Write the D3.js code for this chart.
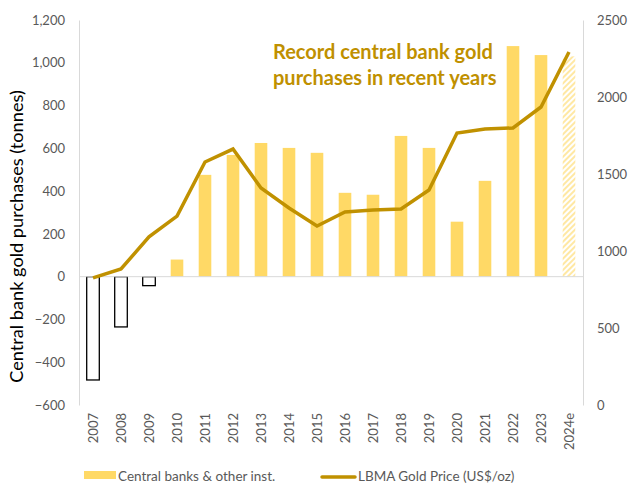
<!DOCTYPE html>
<html>
<head>
<meta charset="utf-8">
<script src="https://cdn.jsdelivr.net/npm/d3@7"></script>
<style>
  body{margin:0;background:#fff;}
  text{font-family:Lato,"Open Sans",sans-serif;}
</style>
</head>
<body>
<svg></svg>
<script>
var years=["2007","2008","2009","2010","2011","2012","2013","2014","2015","2016","2017","2018","2019","2020","2021","2022","2023","2024e"];
var purchases=[-483,-235,-42,80,476,569,625,602,579,392,383,658,602,257,448,1078,1036,1030];
var goldPrice=[826,883,1092,1227,1578,1662,1409,1279,1162,1253,1266,1273,1396,1766,1792,1799,1935,2292];
var leftTicks=[-600,-400,-200,0,200,400,600,800,1000,1200];
var rightTicks=[0,500,1000,1500,2000,2500];

function makeChart(){
  var width=633, height=483;
  var margin={top:20,bot:78,left:79,right:50};
  var svg=d3.select("svg").attr("width",width).attr("height",height);

  var defs=svg.append("defs");
  var pat=defs.append("pattern")
              .attr("id","hatch")
              .attr("patternUnits","userSpaceOnUse")
              .attr("width",4).attr("height",4)
              .attr("patternTransform","rotate(45)");
  pat.append("rect").attr("width",4).attr("height",4).attr("fill","#fff");
  pat.append("rect").attr("width",2).attr("height",4).attr("fill","#ffe8a3");

  var xScale=d3.scaleBand()
               .domain(years)
               .range([margin.left,width-margin.right])
               .paddingInner(0.55).paddingOuter(0.275);
  var yScale=d3.scaleLinear()
               .domain([-600,1200])
               .range([height-margin.bot,margin.top]);
  var y2Scale=d3.scaleLinear()
                .domain([0,2500])
                .range([height-margin.bot,margin.top]);

  // axes
  var yAxis=d3.axisLeft(yScale).tickValues(leftTicks).tickSize(0).tickPadding(14)
              .tickFormat(d3.format(","));
  var gy=svg.append("g").attr("transform","translate("+margin.left+",0)").call(yAxis);
  var y2Axis=d3.axisRight(y2Scale).tickValues(rightTicks).tickSize(0).tickPadding(14)
               .tickFormat(d3.format("d"));
  var gy2=svg.append("g").attr("transform","translate("+(width-margin.right)+",0)").call(y2Axis);
  [gy,gy2].forEach(function(g){
    g.select(".domain").attr("stroke","#d9d9d9");
    g.selectAll("text").attr("fill","#595959").style("font-size","13px")
     .style("font-family","Lato,'Open Sans',sans-serif");
  });

  // bars
  svg.selectAll("rect.bar")
     .data(years)
     .enter().append("rect")
     .attr("class","bar")
     .attr("x",function(d){return xScale(d);})
     .attr("width",xScale.bandwidth())
     .attr("y",function(d,i){return yScale(Math.max(0,purchases[i]));})
     .attr("height",function(d,i){return Math.abs(yScale(purchases[i])-yScale(0));})
     .attr("fill",function(d,i){
        if(d==="2024e"){return "url(#hatch)";}
        return purchases[i]<0?"#fff":"#ffd966";
     })
     .attr("stroke",function(d,i){return purchases[i]<0?"#000":"none";})
     .attr("stroke-width",1.3);

  // zero line
  svg.append("line")
     .attr("x1",margin.left).attr("x2",width-margin.right)
     .attr("y1",yScale(0)).attr("y2",yScale(0))
     .attr("stroke","#d9d9d9").attr("stroke-width",1);

  // x labels
  var xAxis=d3.axisBottom(xScale).tickSize(0).tickPadding(0);
  var gx=svg.append("g").attr("transform","translate(0,"+(height-margin.bot)+")").call(xAxis);
  gx.select(".domain").remove();
  gx.selectAll("text")
    .attr("fill","#595959").style("font-size","13px")
    .style("font-family","Lato,'Open Sans',sans-serif")
    .attr("transform","rotate(-90)")
    .attr("text-anchor","end")
    .attr("x",-8).attr("y",0).attr("dy","0.35em");

  // line
  var lineMaker=d3.line()
                  .x(function(d){return xScale(d)+xScale.bandwidth()/2;})
                  .y(function(d,i){return y2Scale(goldPrice[i]);});
  svg.append("path")
     .attr("d",lineMaker(years))
     .attr("stroke","#c09100")
     .attr("stroke-width",3.5)
     .attr("stroke-linejoin","miter")
     .attr("fill","none");

  // y title
  svg.append("text")
     .attr("transform","translate(23,"+yScale(188)+") rotate(-90)")
     .attr("text-anchor","middle")
     .style("font-size","18.2px")
     .attr("fill","#000")
     .text("Central bank gold purchases (tonnes)");

  // annotation
  var ann=svg.append("text")
             .attr("fill","#bf9000")
             .style("font-size","20px")
             .style("font-weight","bold");
  ann.append("tspan").attr("x",273).attr("y",59).text("Record central bank gold");
  ann.append("tspan").attr("x",273).attr("y",85).text("purchases in recent years");

  // legend
  var leg=svg.append("g");
  leg.append("rect").attr("x",84).attr("y",471).attr("width",32).attr("height",8).attr("fill","#ffd966");
  leg.append("text").attr("x",118).attr("y",481).attr("fill","#595959").style("font-size","13.5px")
     .text("Central banks & other inst.");
  leg.append("line").attr("x1",322).attr("x2",355).attr("y1",477).attr("y2",477)
     .attr("stroke","#c09100").attr("stroke-width",3.5).attr("stroke-linecap","round");
  leg.append("text").attr("x",358).attr("y",481).attr("fill","#595959").style("font-size","13.5px")
     .text("LBMA Gold Price (US$/oz)");
}

makeChart();
</script>
</body>
</html>
